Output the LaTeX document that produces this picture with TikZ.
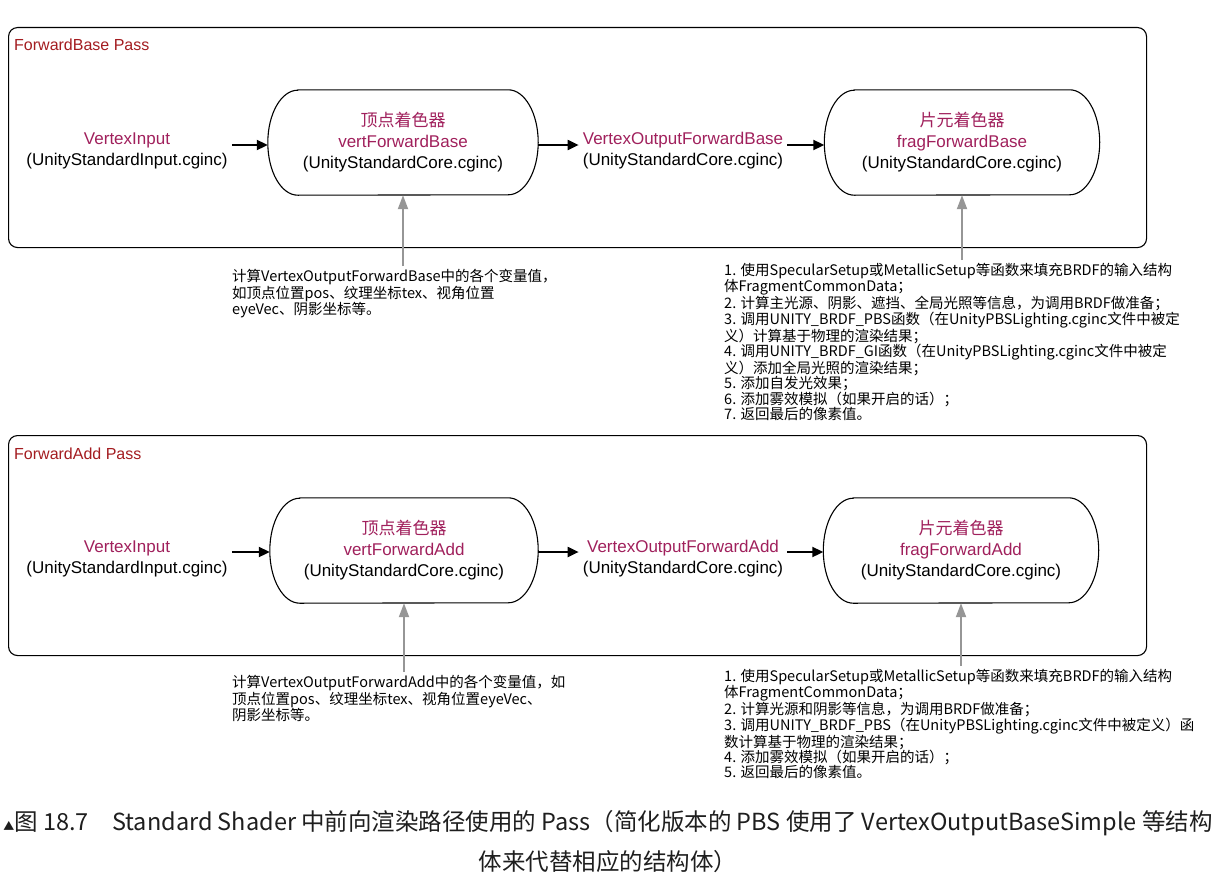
\documentclass[tikz,border=0pt]{standalone}
\usepackage{fontspec}
\setmainfont{Liberation Sans}
\newfontfamily\cjk{Noto Sans CJK SC}
\usetikzlibrary{arrows.meta}
\definecolor{passred}{RGB}{163,28,32}
\definecolor{lblmag}{RGB}{160,32,92}
\definecolor{arrgray}{RGB}{150,150,150}
\definecolor{captxt}{RGB}{30,30,30}
\newcommand\lbl[1]{\textcolor{lblmag}{#1}}
\newcommand\drawstadium[1]{\draw[outl] ([xshift=30pt]#1.north west) -- ([xshift=-30pt]#1.north east) arc[start angle=90,end angle=-90,x radius=30pt,y radius=52.5pt] -- ([xshift=30pt]#1.south west) arc[start angle=270,end angle=90,x radius=30pt,y radius=52.5pt] -- cycle;}
\begin{document}
\begin{tikzpicture}[x=1pt,y=-1pt,
 frame/.style={draw, line width=1.1pt, rounded corners=9pt, minimum width=1138pt, minimum height=220pt, anchor=north west, inner sep=0pt},
 passlbl/.style={text=passred, font=\fontsize{16}{19}\selectfont, anchor=base west, inner sep=0pt},
 txt/.style={align=center, font=\fontsize{17}{21}\selectfont, inner sep=4pt},
 shaderbox/.style={minimum width=#1, minimum height=105pt, align=center, font=\fontsize{17}{21}\selectfont, inner sep=0pt},
 note/.style={align=left, font=\cjk\fontsize{14.5}{15.3}\selectfont, anchor=north west, inner sep=3pt},
 captext/.style={font=\cjk\fontsize{23.5}{27}\selectfont, text=captxt, inner sep=0pt},
 blk/.style={line width=2pt, -{Triangle[length=11pt,width=10pt]}},
 gry/.style={draw=arrgray, line width=2pt, -{Triangle[length=14pt,width=10pt]}, arrgray},
 outl/.style={line width=1.1pt}]
\useasboundingbox (0,0) rectangle (1225,891);

% ---------- ForwardBase Pass ----------
\node[frame] (f1) at (8,27) {};
\node[passlbl] (p1) at (14,51) {ForwardBase Pass};
\node[txt] (vi1) at (127,150.5) {\lbl{VertexInput}\\(UnityStandardInput.cginc)};
\node[shaderbox=270pt] (b1) at (403,142.5) {\textcolor{lblmag}{\cjk 顶点着色器}\\\lbl{vertForwardBase}\\(UnityStandardCore.cginc)};
\node[txt] (vo1) at (683,150.5) {\lbl{VertexOutputForwardBase}\\(UnityStandardCore.cginc)};
\node[shaderbox=275pt] (b2) at (962,142.5) {\textcolor{lblmag}{\cjk 片元着色器}\\\lbl{fragForwardBase}\\(UnityStandardCore.cginc)};
\drawstadium{b1}
\drawstadium{b2}
\coordinate (b1w) at ([yshift=-2.5pt]b1.west);
\coordinate (b1e) at ([yshift=-2.5pt]b1.east);
\coordinate (b2w) at ([yshift=-2.5pt]b2.west);
\draw[blk] (vi1.east |- b1w) -- (b1w);
\draw[blk] (b1e) -- (vo1.west |- b1e);
\draw[blk] (vo1.east |- b2w) -- (b2w);
\node[note] (a1) at (229,266) {计算VertexOutputForwardBase中的各个变量值，\\如顶点位置pos、纹理坐标tex、视角位置\\eyeVec、阴影坐标等。};
\node[note] (a2) at (721,260) {1. 使用SpecularSetup或MetallicSetup等函数来填充BRDF的输入结构\\体FragmentCommonData；\\2. 计算主光源、阴影、遮挡、全局光照等信息，为调用BRDF做准备；\\3. 调用UNITY\_BRDF\_PBS函数（在UnityPBSLighting.cginc文件中被定\\义）计算基于物理的渲染结果；\\4. 调用UNITY\_BRDF\_GI函数（在UnityPBSLighting.cginc文件中被定\\义）添加全局光照的渲染结果；\\5. 添加自发光效果；\\6. 添加雾效模拟（如果开启的话）；\\7. 返回最后的像素值。};
\draw[gry] (b1.south |- a1.north) -- (b1.south);
\draw[gry] (b2.south |- a2.north) -- (b2.south);

% ---------- ForwardAdd Pass ----------
\node[frame] (f2) at (8,435) {};
\node[passlbl] (p2) at (14,459) {ForwardAdd Pass};
\node[txt] (vi2) at (127,558.5) {\lbl{VertexInput}\\(UnityStandardInput.cginc)};
\node[shaderbox=268pt] (b3) at (404,550.5) {\textcolor{lblmag}{\cjk 顶点着色器}\\\lbl{vertForwardAdd}\\(UnityStandardCore.cginc)};
\node[txt] (vo2) at (683,558.5) {\lbl{VertexOutputForwardAdd}\\(UnityStandardCore.cginc)};
\node[shaderbox=275pt] (b4) at (961,550.5) {\textcolor{lblmag}{\cjk 片元着色器}\\\lbl{fragForwardAdd}\\(UnityStandardCore.cginc)};
\drawstadium{b3}
\drawstadium{b4}
\coordinate (b3w) at ([yshift=-1.5pt]b3.west);
\coordinate (b3e) at ([yshift=-1.5pt]b3.east);
\coordinate (b4w) at ([yshift=-1.5pt]b4.west);
\draw[blk] (vi2.east |- b3w) -- (b3w);
\draw[blk] (b3e) -- (vo2.west |- b3e);
\draw[blk] (vo2.east |- b4w) -- (b4w);
\node[note] (a3) at (229,672) {计算VertexOutputForwardAdd中的各个变量值，如\\顶点位置pos、纹理坐标tex、视角位置eyeVec、\\阴影坐标等。};
\node[note] (a4) at (721,666) {1. 使用SpecularSetup或MetallicSetup等函数来填充BRDF的输入结构\\体FragmentCommonData；\\2. 计算光源和阴影等信息，为调用BRDF做准备；\\3. 调用UNITY\_BRDF\_PBS（在UnityPBSLighting.cginc文件中被定义）函\\数计算基于物理的渲染结果；\\4. 添加雾效模拟（如果开启的话）；\\5. 返回最后的像素值。};
\draw[gry] (b3.south |- a3.north) -- (b3.south);
\draw[gry] (b4.south |- a4.north) -- (b4.south);

% ---------- caption ----------
\node[captext] (c1) at (608,823) {{\fontsize{11}{11}\selectfont ▲}图 18.7\hspace{1em}Standard Shader 中前向渲染路径使用的 Pass（简化版本的 PBS 使用了 VertexOutputBaseSimple 等结构};
\node[captext] (c2) at (608,862) {体来代替相应的结构体）};
\end{tikzpicture}
\end{document}
